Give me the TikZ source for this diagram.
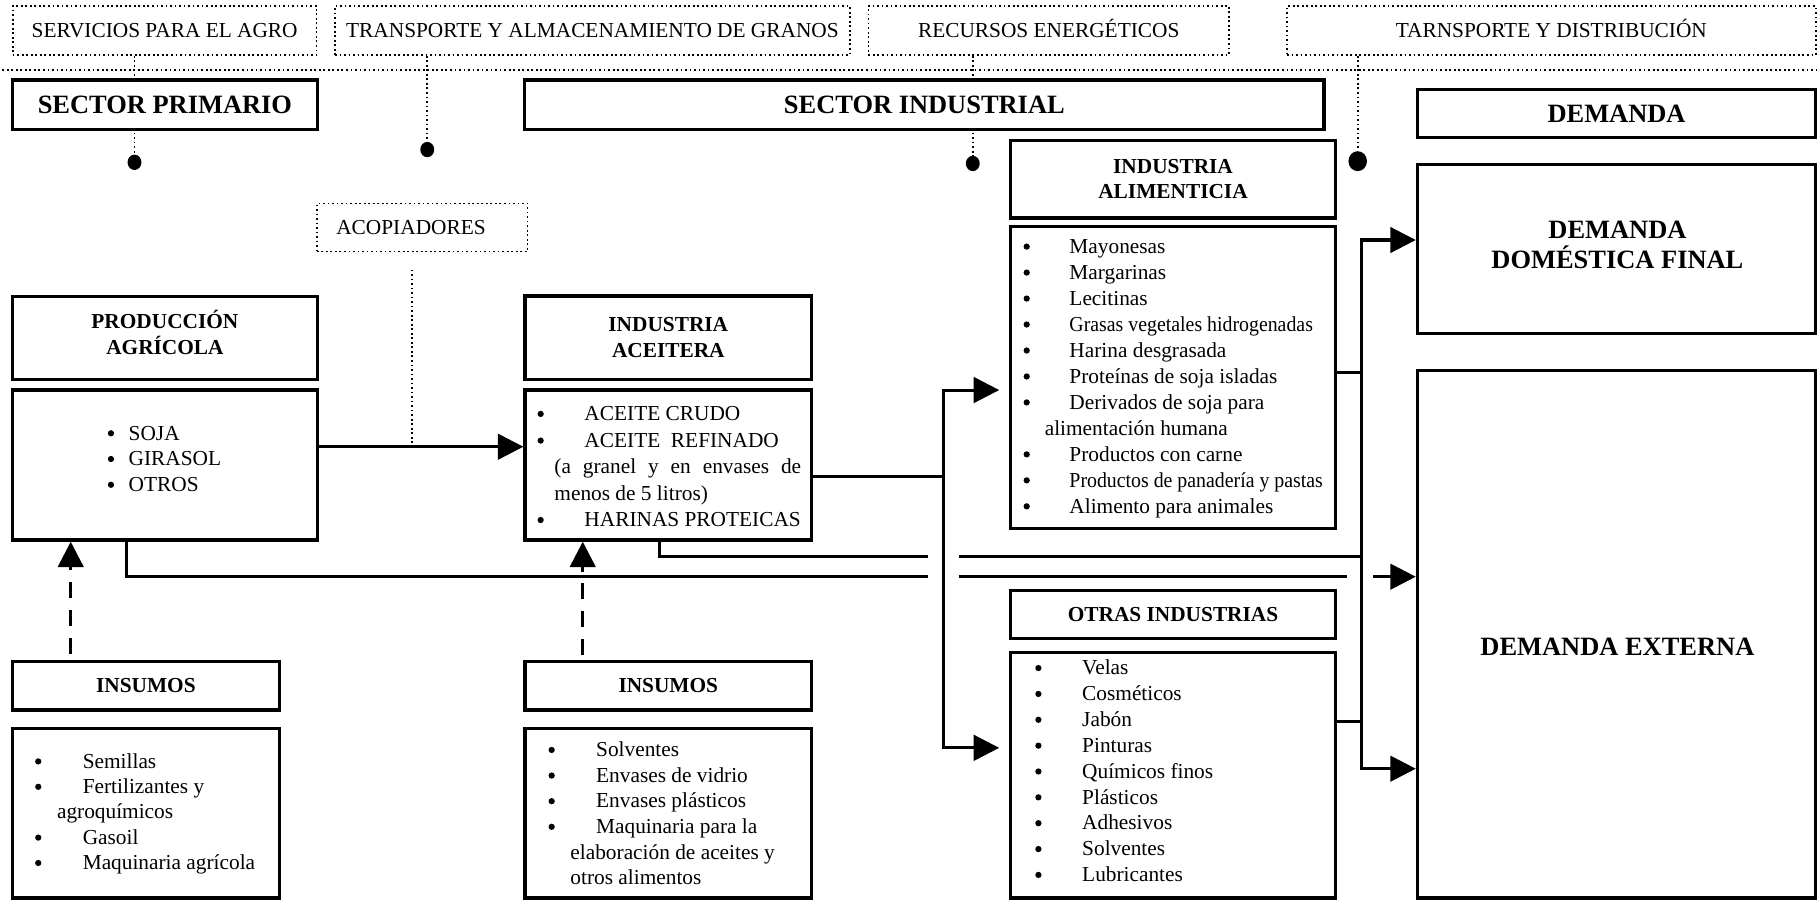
\documentclass[tikz,border=0pt]{standalone}
\usepackage{fontspec}
\usepackage{graphicx}
\setmainfont{Liberation Serif}
\usetikzlibrary{arrows.meta,fit,shapes.geometric,backgrounds}

\newcommand\fReg{\fontsize{9.2}{11.2}\selectfont}
\newcommand\fHdr{\fontsize{9.2}{11}\selectfont\bfseries}
\newcommand\fBig{\fontsize{11.4}{13}\selectfont\bfseries}

\tikzset{
  solidbox/.style={draw, line width=1.4pt, fill=white, inner sep=0pt},
  dotbox/.style={draw, line width=0.75pt, dash pattern=on 0.75pt off 1.2pt, fill=white, inner sep=0pt},
  dotline/.style={line width=0.75pt, dash pattern=on 0.75pt off 1.2pt},
  conn/.style={line width=1.3pt},
  dconn/.style={line width=1.4pt, dash pattern=on 7pt off 5pt},
  arr/.style={-{Triangle[length=11pt,width=11pt]}},
  dot/.style={shape=ellipse, fill=black, inner sep=0pt, minimum width=6pt, minimum height=6.6pt},
  bigdot/.style={shape=ellipse, fill=black, inner sep=0pt, minimum width=8pt, minimum height=8.6pt},
  reglbl/.style={inner sep=0pt, align=center, font=\fReg},
  toplbl/.style={inner sep=0pt, anchor=base, font=\fReg},
  hdrlbl/.style={inner sep=0pt, align=center, font=\fHdr},
  biglbl/.style={inner sep=0pt, align=center, font=\fBig},
  li/.style={inner sep=0pt, anchor=base west, font=\fReg},
  bu/.style={shape=circle, fill=black, inner sep=0pt, minimum size=2.7pt},
}

\begin{document}
\begin{tikzpicture}[x=0.5pt,y=-0.5pt]
\useasboundingbox (0,0) rectangle (1568,781);
\begin{scope}[on background layer]
  \fill[white] (0,0) rectangle (1568,781);
\end{scope}

% ---- service boxes along the top
\node[dotbox, fit={(11,5.2) (273,47.4)}] (serv) {};
\node[dotbox, fit={(289,5.2) (733,47.4)}] (trans) {};
\node[dotbox, fit={(749,5.2) (1060,47.4)}] (ener) {};
\node[dotbox, fit={(1110,5.2) (1566,47.4)}] (dist) {};
\node[toplbl] (servlbl) at (serv.center |- 0,32.3) {SERVICIOS PARA EL AGRO};
\node[toplbl] (translbl) at (trans.center |- 0,32.3) {TRANSPORTE Y ALMACENAMIENTO DE GRANOS};
\node[toplbl] (enerlbl) at (ener.center |- 0,32.3) {RECURSOS ENERGÉTICOS};
\node[toplbl] (distlbl) at (dist.center |- 0,32.3) {TARNSPORTE Y DISTRIBUCIÓN};

\coordinate (sepL) at (2,60.4);
\coordinate (sepR) at (1568,60.4);
\draw[dotline] (sepL) -- (sepR);

% ---- sector headers
\node[solidbox, fit={(10.5,69) (274,111.6)}] (sprim) {};
\node[solidbox, fit={(452.5,69) (1142,111.6)}] (sind) {};
\node[solidbox, fit={(1222.5,77) (1566,118.5)}] (dem) {};
\node[biglbl] (sprimlbl) at (sprim.center) {SECTOR PRIMARIO};
\node[biglbl] (sindlbl) at (sind.center) {SECTOR INDUSTRIAL};
\node[biglbl] (demlbl) at (dem.center) {DEMANDA};

% ---- markers where the services reach the chain
\node[dot] (d1) at (116,140) {};
\node[dot] (d2) at (368.5,129) {};
\node[dot] (d3) at (839,141) {};
\node[bigdot] (d4) at (1171,139) {};

\begin{scope}[on background layer]
  \draw[dotline] (serv.south -| d1) -- (d1);
  \draw[dotline] (trans.south -| d2) -- (d2);
  \draw[dotline] (ener.south -| d3) -- (d3);
  \draw[dotline] (dist.south -| d4) -- (d4);
\end{scope}

% ---- primary sector
\node[dotbox, fit={(273.3,175.5) (454.9,217)}] (acop) {};
\node[reglbl] (acoplbl) at (354.5,196) {ACOPIADORES};

\node[solidbox, fit={(10.5,256) (274,327.5)}] (prodhdr) {};
\node[hdrlbl] (prodlbl) at ([yshift=2.5pt]prodhdr.center) {PRODUCCIÓN\\AGRÍCOLA};
\node[solidbox, fit={(10.5,336.4) (274,465.8)}] (prodlist) {};
\foreach \yy/\txt [count=\i] in {379.5/SOJA, 401.7/GIRASOL, 423.9/OTROS}{
  \node[bu] (pb\i) at (95.7,\yy-5.8) {};
  \node[li] (pt\i) at (110.6,\yy) {\txt};
}

\node[solidbox, fit={(10.6,570.7) (241,612.4)}] (insLhdr) {};
\node[hdrlbl] (insLlbl) at (insLhdr.center) {INSUMOS};
\node[solidbox, fit={(10.6,628) (241,774.6)}] (insLlist) {};
\foreach \yy/\txt [count=\i] in {662.5/Semillas, 684.4/Fertilizantes y, 728.2/Gasoil, 750.1/Maquinaria agrícola}{
  \node[bu] (ilb\i) at (33,\yy-5.8) {};
  \node[li] (ilt\i) at (71,\yy) {\txt};
}
\node[li] (ilc1) at (48.8,706.3) {agroquímicos};

% ---- oil industry
\node[solidbox, fit={(452.8,255.3) (700,327)}] (acehdr) {};
\node[hdrlbl] (acelbl) at (acehdr.center) {INDUSTRIA\\ACEITERA};
\node[solidbox, fit={(452.8,336.4) (700,465.8)}] (acelist) {};
\foreach \yy [count=\i] in {362.8, 385.8, 454.3}{
  \node[bu] (ab\i) at (466.3,\yy-5.8) {};
}
\node[li] (at1) at (503.7,362.8) {ACEITE CRUDO};
\node[li] (at2) at (503.7,385.8) {ACEITE~ REFINADO};
\node[li] (at3) at (477.8,408.8) {\makebox[106.4pt][s]{(a granel y en envases de}};
\node[li] (at4) at (477.8,431.8) {menos de 5 litros)};
\node[li] (at5) at (503.7,454.3) {HARINAS PROTEICAS};

\node[solidbox, fit={(452.8,570.7) (700,612.4)}] (insMhdr) {};
\node[hdrlbl] (insMlbl) at (insMhdr.center) {INSUMOS};
\node[solidbox, fit={(452.8,628) (700,774.6)}] (insMlist) {};
\foreach \yy/\txt [count=\i] in {652.6/Solventes, 674.7/Envases de vidrio, 696.8/Envases plásticos, 718.9/Maquinaria para la}{
  \node[bu] (imb\i) at (475.8,\yy-5.8) {};
  \node[li] (imt\i) at (513.8,\yy) {\txt};
}
\node[li] (imc1) at (491.6,741) {elaboración de aceites y};
\node[li] (imc2) at (491.6,763.1) {otros alimentos};

% ---- food industry
\node[solidbox, fit={(871.8,121) (1151.6,188)}] (alimhdr) {};
\node[hdrlbl] (alimlbl) at (alimhdr.center) {INDUSTRIA\\ALIMENTICIA};
\node[solidbox, fit={(871.8,195.5) (1151.6,456)}] (alimlist) {};
\foreach \yy/\txt [count=\i] in {218.5/Mayonesas, 240.9/Margarinas, 263.3/Lecitinas,
    285.7/{\scalebox{0.93}[1]{Grasas vegetales hidrogenadas}}, 308.1/Harina desgrasada,
    330.5/Proteínas de soja isladas, 352.9/Derivados de soja para, 397.7/Productos con carne,
    420.1/{\scalebox{0.93}[1]{Productos de panadería y pastas}}, 442.5/Alimento para animales}{
  \node[bu] (alb\i) at (885.5,\yy-5.8) {};
  \node[li] (alt\i) at (922,\yy) {\txt};
}
\node[li] (alc1) at (900.7,375.3) {alimentación humana};

% ---- other industries
\node[solidbox, fit={(871.8,509) (1151.6,551)}] (otrhdr) {};
\node[hdrlbl] (otrlbl) at (otrhdr.center) {OTRAS INDUSTRIAS};
\node[solidbox, fit={(871.8,562.5) (1151.6,774.6)}] (otrlist) {};
\foreach \txt [count=\i] in {Velas, Cosméticos, Jabón, Pinturas, Químicos finos, Plásticos, Adhesivos, Solventes, Lubricantes}{
  \node[bu] (otb\i) at (895.6,{582+22.3*(\i-1)-5.8}) {};
  \node[li] (ott\i) at (933,{582+22.3*(\i-1)}) {\txt};
}

% ---- demand
\node[solidbox, fit={(1222.5,142) (1566,287.5)}] (dom) {};
\node[biglbl] (domlbl) at (1395,211) {DEMANDA\\DOMÉSTICA FINAL};
\node[solidbox, fit={(1222.5,319.7) (1566,774.6)}] (ext) {};
\node[biglbl] (extlbl) at (1395,558) {DEMANDA EXTERNA};

% ---- flows
\coordinate (accA) at (355.5,232.5);
\coordinate (accB) at (355.5,385.3);
\draw[dotline] (accA) -- (accB);
\draw[conn, arr] (prodlist.east |- accB) -- (acelist.west |- accB);

% return line from primary production
\coordinate (loA) at (109,497.4);
\coordinate (loB) at (800.5,497.4);
\coordinate (loC) at (826.7,497.4);
\coordinate (loD) at (1161.5,497.4);
\coordinate (loE) at (1184,497.4);
\draw[conn] (prodlist.south -| loA) -- (loA) -- (loB);
\draw[conn] (loC) -- (loD);
\draw[conn, arr] (loE) -- (ext.west |- loE);

% meal line from the oil industry
\coordinate (upA) at (568.7,480);
\coordinate (upB) at (800.5,480);
\coordinate (upC) at (826.7,480);
\coordinate (upD) at (1174,480);
\draw[conn] (acelist.south -| upA) -- (upA) -- (upB);
\draw[conn] (upC) -- (upD);

% oil to the downstream industries
\coordinate (busL) at (813.6,410.6);
\coordinate (busLt) at (813.6,336.4);
\coordinate (busLb) at (813.6,645);
\draw[conn] (acelist.east |- busL) -- (busL);
\draw[conn, arr, shorten >=4.3pt] (busL) -- (busLt) -- (alimlist.west |- busLt);
\draw[conn, arr, shorten >=4.3pt] (busL) -- (busLb) -- (otrlist.west |- busLb);

% industries to demand
\coordinate (busR) at (1174,321.4);
\coordinate (busRo) at (1174,622);
\coordinate (busRt) at (1174,207);
\coordinate (busRb) at (1174,663);
\draw[conn] (alimlist.east |- busR) -- (busR);
\draw[conn] (otrlist.east |- busRo) -- (busRo);
\draw[conn, arr] (busR) -- (busRt) -- (dom.west |- busRt);
\draw[conn, arr] (busR) -- (busRb) -- (ext.west |- busRb);

% inputs
\coordinate (dsL) at (61,564);
\coordinate (dsM) at (502.6,565);
\draw[dconn, arr] (dsL) -- (prodlist.south -| dsL);
\draw[dconn, arr] (dsM) -- (acelist.south -| dsM);
\end{tikzpicture}
\end{document}
